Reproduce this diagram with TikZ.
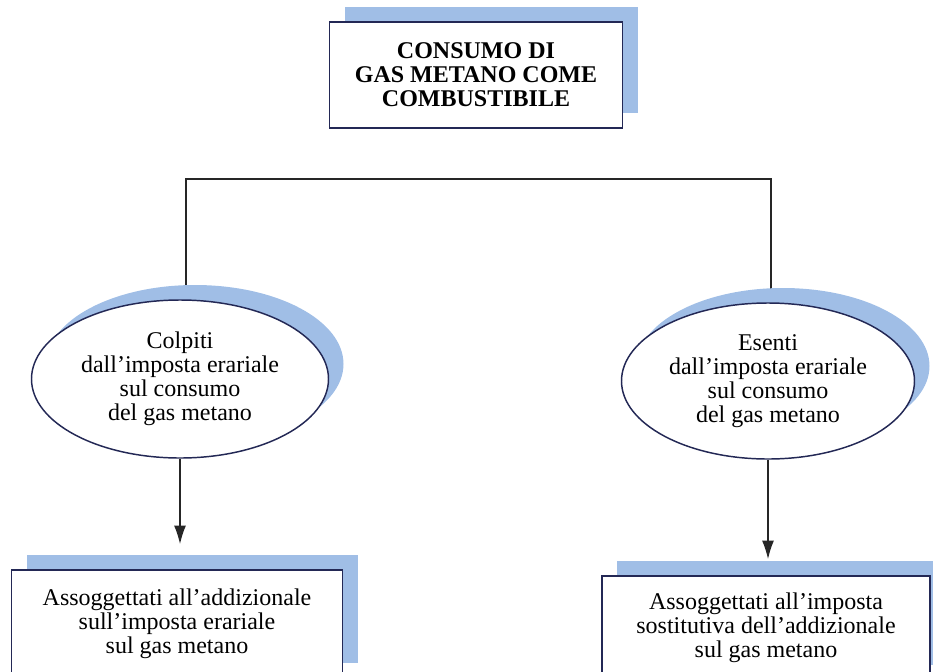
\documentclass[tikz,border=0pt]{standalone}
\usepackage{fontspec}
\setmainfont{Liberation Serif}
\usetikzlibrary{shapes.geometric,shadows,arrows.meta,backgrounds}
\definecolor{shadowblue}{RGB}{160,190,230}
\definecolor{edgeblue}{RGB}{35,40,85}
\tikzset{>={Latex[length=14pt,width=9pt]}}
\tikzset{
  boxshadow/.style={drop shadow={shadow xshift=11.25pt,shadow yshift=11.25pt,opacity=1,fill=shadowblue}},
  titlebox/.style={draw=edgeblue,line width=1.1pt,fill=white,boxshadow,align=center,inner sep=0pt,
    font=\fontsize{18}{18}\selectfont\bfseries},
  taxellipse/.style={ellipse,draw=edgeblue,line width=1.1pt,fill=white,boxshadow,align=center,inner sep=0pt,
    font=\fontsize{18}{18}\selectfont},
  taxbox/.style={draw=edgeblue,line width=1.1pt,fill=white,boxshadow,align=center,inner sep=0pt,
    font=\fontsize{18}{18}\selectfont},
  link/.style={black!85,line width=1.2pt}
}

\begin{document}
\begin{tikzpicture}[x=0.75pt,y=-0.75pt]
      \useasboundingbox (0,0) rectangle (933,672);

      \node[titlebox,minimum width=219.75pt,minimum height=79.5pt] (title) at (476,75)
        {CONSUMO DI\\GAS METANO COME\\COMBUSTIBILE};

      \node[taxellipse,minimum width=222.75pt,minimum height=118.5pt] (colpiti) at (180,379)
        {Colpiti\\dall'imposta erariale\\sul consumo\\del gas metano};
      \node[taxellipse,minimum width=219.75pt,minimum height=117pt] (esenti) at (768,381)
        {Esenti\\dall'imposta erariale\\sul consumo\\del gas metano};

      \node[taxbox,minimum width=248.25pt,minimum height=81pt] (addiz) at (177,624)
        {Assoggettati all'addizionale\\sull'imposta erariale\\sul gas metano};
      \node[taxbox,minimum width=246pt,minimum height=78pt] (sostit) at (766,628)
        {Assoggettati all'imposta\\sostitutiva dell'addizionale\\sul gas metano};

      \coordinate (forkL) at (186,179);
      \coordinate (forkR) at (771,179);
      \begin{scope}[on background layer]
        \draw[link] (forkL |- colpiti.north) -- (forkL) -- (forkR) -- (forkR |- esenti.north);
      \end{scope}

      \draw[link,->,shorten >=18.75pt] (colpiti.south) -- (colpiti.south |- addiz.north);
      \draw[link,->,shorten >=12pt] (esenti.south) -- (esenti.south |- sostit.north);
    \end{tikzpicture}
\end{document}
